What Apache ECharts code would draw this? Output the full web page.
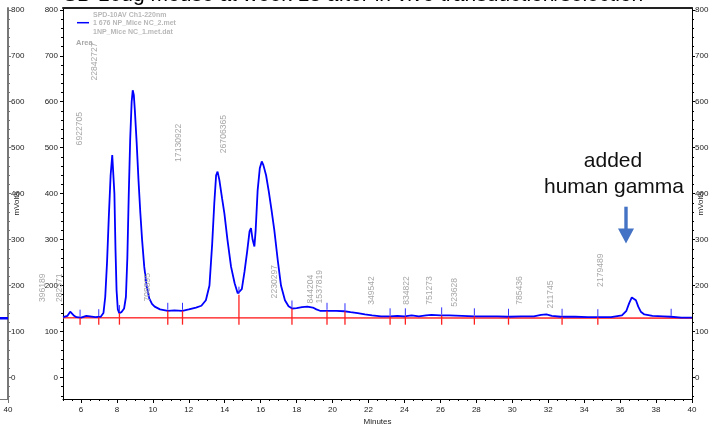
<!DOCTYPE html>
<html>
<head>
<meta charset="utf-8">
<script src="https://cdn.jsdelivr.net/npm/echarts@6/dist/echarts.min.js"></script>
<style>
html, body { margin: 0; padding: 0; background: #fff; }
#chart { width: 711px; height: 431px; }
</style>
</head>
<body>
<div id="chart"></div>
<script>
// Detector trace, SPD-10AV channel 1 at 220 nm (minutes, mV)
const traceTime = [5.00, 5.25, 5.40, 5.50, 5.62, 5.75, 6.00, 6.30, 6.50, 6.80, 7.10, 7.25, 7.35, 7.45, 7.55, 7.65, 7.74, 7.80, 7.86, 7.92, 7.98, 8.05, 8.13, 8.25, 8.40, 8.50, 8.58, 8.66, 8.74, 8.82, 8.88, 8.94, 9.00, 9.10, 9.20, 9.30, 9.40, 9.52, 9.65, 9.80, 9.95, 10.10, 10.40, 10.83, 11.20, 11.65, 12.00, 12.40, 12.70, 12.95, 13.15, 13.30, 13.42, 13.52, 13.60, 13.70, 13.85, 13.98, 14.15, 14.35, 14.55, 14.72, 14.82, 14.95, 15.10, 15.25, 15.38, 15.46, 15.55, 15.65, 15.72, 15.83, 15.95, 16.06, 16.15, 16.30, 16.45, 16.60, 16.76, 16.95, 17.13, 17.35, 17.55, 17.75, 18.00, 18.30, 18.60, 18.90, 19.10, 19.30, 19.70, 20.20, 20.65, 21.00, 21.40, 21.80, 22.20, 22.70, 23.20, 23.60, 24.00, 24.40, 24.80, 25.20, 25.50, 26.00, 26.50, 27.20, 27.90, 28.50, 29.20, 29.80, 30.50, 31.20, 31.60, 31.90, 32.20, 32.70, 33.50, 34.20, 34.75, 35.50, 36.10, 36.35, 36.50, 36.65, 36.76, 36.88, 37.01, 37.15, 37.35, 37.80, 38.40, 38.84, 39.40, 40.00];
const traceMv = [131, 134, 143, 142, 134, 131, 130, 134, 133, 131, 132, 140, 175, 250, 350, 440, 484, 480, 400, 280, 190, 148, 140, 142, 150, 175, 260, 400, 520, 600, 625, 615, 580, 510, 430, 360, 300, 241, 200, 172, 160, 154, 148, 145, 146, 145, 148, 152, 156, 168, 200, 290, 380, 440, 448, 430, 390, 357, 300, 241, 205, 183, 180, 192, 230, 275, 318, 325, 300, 285, 320, 407, 455, 470, 462, 440, 405, 365, 320, 255, 200, 168, 155, 150, 151, 153, 154, 152, 148, 145, 145, 145, 144, 142, 140, 137, 135, 133, 133, 134, 133, 135, 133, 135, 136, 135, 135, 134, 133, 133, 133, 132, 133, 133, 136, 137, 134, 132, 132, 131, 131, 131, 135, 145, 161, 174, 176, 168, 154, 143, 137, 134, 133, 132, 130, 130];

// Integration baseline
const baseTime = [5, 40];
const baseMv = [130, 129];

// Peak start/end marks (time, trace level, whether a drop line is drawn)
const boundaryTime = [5.95, 6.99, 8.14, 10.83, 11.65, 14.79, 17.74, 19.69, 20.69, 23.20, 24.05, 26.07, 27.89, 29.79, 32.77, 34.76, 38.84];
const boundaryMv = [130, 131, 140, 145, 145, 180, 150, 145, 144, 133, 133, 135, 133, 132, 132, 131, 132];
const boundaryDrop = [1, 1, 1, 1, 1, 1, 1, 1, 1, 1, 1, 1, 1, 1, 1, 1, 0];

// Peak area annotations (text, time, level where the text starts)
const areaText = ['396189', '282371', '6922705', '22842727', '708895', '17130922', '26706365', '2230297', '844204', '1537819', '349542', '834822', '751273', '523628', '785436', '211745', '2179489'];
const areaTime = [3.87, 4.79, 5.91, 6.78, 9.71, 11.44, 13.94, 16.80, 18.76, 19.30, 22.18, 24.14, 25.38, 26.80, 30.39, 32.16, 34.90];
const areaMv = [164, 164, 505, 646, 165, 469, 488, 172, 161, 161, 158, 158, 158, 154, 158, 150, 197];

// End of the previous run, shown in the neighbouring panel
const prevTime = [39.3, 40];
const prevMv = [129, 129];

// Axis ticks and labels
const yTicks = [0, 100, 200, 300, 400, 500, 600, 700, 800];
const xTicks = [6, 8, 10, 12, 14, 16, 18, 20, 22, 24, 26, 28, 30, 32, 34, 36, 38, 40];
const yMinorTicks = [-40, -20, 20, 40, 60, 80, 120, 140, 160, 180, 220, 240, 260, 280, 320, 340, 360, 380, 420, 440, 460, 480, 520, 540, 560, 580, 620, 640, 660, 680, 720, 740, 760, 780];
const xMinorTicks = [5, 5.5, 6.5, 7, 7.5, 8.5, 9, 9.5, 10.5, 11, 11.5, 12.5, 13, 13.5, 14.5, 15, 15.5, 16.5, 17, 17.5, 18.5, 19, 19.5, 20.5, 21, 21.5, 22.5, 23, 23.5, 24.5, 25, 25.5, 26.5, 27, 27.5, 28.5, 29, 29.5, 30.5, 31, 31.5, 32.5, 33, 33.5, 34.5, 35, 35.5, 36.5, 37, 37.5, 38.5, 39, 39.5];

const legendLines = ['SPD-10AV Ch1-220nm', '1 676 NP_Mice NC_2.met', '1NP_Mice NC_1.met.dat'];
const titleText = 'SD 10ug mouse at week 13 after in vivo transduction/selection';
const noteLines = ['added', 'human gamma'];

const FONT = '"Liberation Sans", Arial, sans-serif';
const Y_MIN = -47, Y_MAX = 804;

const zip = (a, b) => a.map((v, i) => [v, b[i]]);

const chart = echarts.init(document.getElementById('chart'), null, { renderer: 'canvas' });

function yAxisMain(pos, grid, showName, lineColor, lineWidth, margin) {
  return {
    type: 'value', gridIndex: grid, position: pos, min: Y_MIN, max: Y_MAX,
    axisLine: { show: true, onZero: false, lineStyle: { color: lineColor, width: lineWidth } },
    axisTick: { show: true, customValues: yTicks, length: 3, lineStyle: { color: lineColor } },
    axisLabel: { show: true, customValues: yTicks, fontSize: 8, color: '#222', fontFamily: FONT, margin: margin },
    splitLine: { show: false },
    name: showName ? 'mVolts' : '', nameLocation: 'middle', nameRotate: 90, nameGap: 5,
    nameMoveOverlap: false,
    nameTextStyle: { fontSize: 8, color: '#222', fontFamily: FONT }
  };
}
function yAxisMinor(pos, grid, color) {
  return {
    type: 'value', gridIndex: grid, position: pos, min: Y_MIN, max: Y_MAX,
    axisLine: { show: false, onZero: false },
    axisTick: { show: true, customValues: yMinorTicks, length: 2, lineStyle: { color: color } },
    axisLabel: { show: false }, splitLine: { show: false }
  };
}

const option = {
  animation: false,
  backgroundColor: '#fff',
  grid: [
    { left: 63, top: 8, width: 629, height: 391, show: false, outerBoundsMode: 'none', containLabel: false },
    { left: -621, top: 8, width: 629, height: 391, show: false, outerBoundsMode: 'none', containLabel: false }
  ],
  xAxis: [
    {
      type: 'value', gridIndex: 0, position: 'bottom', min: 5, max: 40,
      axisLine: { onZero: false, lineStyle: { color: '#000', width: 1 } },
      axisTick: { customValues: xTicks, length: 4, lineStyle: { color: '#000' } },
      axisLabel: { customValues: xTicks, fontSize: 8, color: '#222', fontFamily: FONT, margin: 7 },
      splitLine: { show: false },
      name: 'Minutes', nameLocation: 'middle', nameGap: 19, nameMoveOverlap: false,
      nameTextStyle: { fontSize: 8, color: '#222', fontFamily: FONT }
    },
    {
      type: 'value', gridIndex: 0, position: 'bottom', min: 5, max: 40,
      axisLine: { show: false, onZero: false },
      axisTick: { customValues: xMinorTicks, length: 2, lineStyle: { color: '#000' } },
      axisLabel: { show: false }, splitLine: { show: false }
    },
    {
      type: 'value', gridIndex: 0, position: 'top', min: 5, max: 40,
      axisLine: { onZero: false, lineStyle: { color: '#222', width: 2 } },
      axisTick: { show: false }, axisLabel: { show: false }, splitLine: { show: false }
    },
    {
      type: 'value', gridIndex: 1, position: 'bottom', min: 5, max: 40,
      axisLine: { onZero: false, lineStyle: { color: '#777', width: 1 } },
      axisTick: { customValues: [40], length: 4, lineStyle: { color: '#777' } },
      axisLabel: { customValues: [40], fontSize: 8, color: '#222', fontFamily: FONT, margin: 7 },
      splitLine: { show: false }
    }
  ],
  yAxis: [
    yAxisMain('left', 0, false, '#000', 1, 5),
    yAxisMain('right', 0, true, '#000', 1, 3),
    yAxisMinor('left', 0, '#000'),
    yAxisMinor('right', 0, '#000'),
    yAxisMain('right', 1, true, '#777', 2, 3),
    yAxisMinor('right', 1, '#777')
  ],
  series: [
    {
      name: 'baseline', type: 'line', xAxisIndex: 0, yAxisIndex: 0,
      data: zip(baseTime, baseMv), symbol: 'none', z: 2,
      lineStyle: { color: '#ff4040', width: 1.6 }
    },
    {
      name: 'trace', type: 'line', xAxisIndex: 0, yAxisIndex: 0,
      data: zip(traceTime, traceMv), symbol: 'none', z: 3,
      lineStyle: { color: '#0000ff', width: 1.8 }
    },
    {
      name: 'boundaries', type: 'custom', xAxisIndex: 0, yAxisIndex: 0, z: 4, clip: false,
      data: boundaryTime.map((t, i) => [t, boundaryMv[i], boundaryDrop[i]]),
      renderItem: function (params, api) {
        const p = api.coord([api.value(0), api.value(1)]);
        const b = api.coord([api.value(0), baseMv[0]]);
        const children = [{
          type: 'line',
          shape: { x1: p[0], y1: p[1] - 8, x2: p[0], y2: p[1] - 1 },
          style: { stroke: '#3030ff', lineWidth: 1 }
        }];
        if (api.value(2)) {
          children.push({
            type: 'line',
            shape: { x1: p[0], y1: p[1], x2: p[0], y2: b[1] + 7 },
            style: { stroke: '#ff2020', lineWidth: 1.3 }
          });
        }
        return { type: 'group', children: children };
      }
    },
    {
      name: 'areas', type: 'custom', xAxisIndex: 0, yAxisIndex: 0, z: 5, clip: false,
      data: areaTime.map((t, i) => [t, areaMv[i], i]),
      renderItem: function (params, api) {
        const p = api.coord([api.value(0), api.value(1)]);
        return {
          type: 'text', x: p[0], y: p[1], rotation: Math.PI / 2,
          style: {
            text: areaText[api.value(2)], fill: '#a8a8a8',
            font: '8.6px ' + FONT, align: 'left', verticalAlign: 'middle'
          }
        };
      }
    },
    {
      name: 'previous', type: 'line', xAxisIndex: 3, yAxisIndex: 4,
      data: zip(prevTime, prevMv), symbol: 'none', z: 3,
      lineStyle: { color: '#0000ff', width: 2.5 }
    }
  ],
  graphic: [
    {
      type: 'text', x: 63, y: 6,
      style: { text: titleText, font: '21px ' + FONT, fill: '#000', align: 'left', verticalAlign: 'bottom' }
    },
    {
      type: 'text', x: 93, y: 15,
      style: { text: legendLines[0], font: 'bold 7px ' + FONT, fill: '#b8b8b8', align: 'left', verticalAlign: 'middle' }
    },
    {
      type: 'line', shape: { x1: 77, y1: 22.7, x2: 89, y2: 22.7 },
      style: { stroke: '#0000ff', lineWidth: 1.5 }
    },
    {
      type: 'text', x: 93, y: 23.3,
      style: { text: legendLines[1], font: 'bold 7px ' + FONT, fill: '#b8b8b8', align: 'left', verticalAlign: 'middle' }
    },
    {
      type: 'text', x: 93, y: 32.3,
      style: { text: legendLines[2], font: 'bold 7px ' + FONT, fill: '#b8b8b8', align: 'left', verticalAlign: 'middle' }
    },
    {
      type: 'text', x: 76, y: 42.7,
      style: { text: 'Area', font: 'bold 7.5px ' + FONT, fill: '#a8a8a8', align: 'left', verticalAlign: 'middle' }
    },
    {
      type: 'text', x: 613, y: 161.7,
      style: { text: noteLines[0], font: '21px ' + FONT, fill: '#111', align: 'center', verticalAlign: 'middle' }
    },
    {
      type: 'text', x: 614, y: 187.3,
      style: { text: noteLines[1], font: '21px ' + FONT, fill: '#111', align: 'center', verticalAlign: 'middle' }
    },
    {
      type: 'rect', shape: { x: 624.3, y: 206.7, width: 3.4, height: 23 },
      style: { fill: '#4472c4' }
    },
    {
      type: 'polygon', shape: { points: [[618, 228.5], [634, 228.5], [626, 243.5]] },
      style: { fill: '#4472c4' }
    }
  ]
};

chart.setOption(option);
</script>
</body>
</html>
